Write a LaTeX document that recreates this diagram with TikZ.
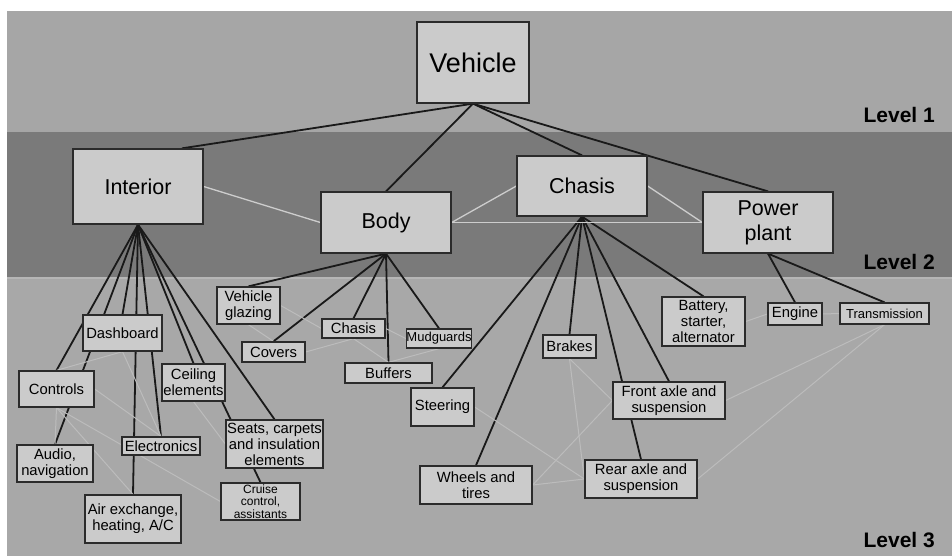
\documentclass[tikz,border=0pt]{standalone}
\usepackage{fontspec}
\setmainfont{Liberation Sans}
\usetikzlibrary{positioning}

\definecolor{bandone}{HTML}{A6A6A6}
\definecolor{bandtwo}{HTML}{7A7A7A}
\definecolor{bandthree}{HTML}{A8A8A8}
\definecolor{bandedge}{HTML}{B6B6B6}
\definecolor{boxfill}{HTML}{CBCBCB}
\definecolor{boxline}{HTML}{2B2B2B}
\definecolor{tiegrey}{HTML}{CDCDCD}
\definecolor{softgrey}{HTML}{BCBCBC}

\pgfdeclarelayer{bands}
\pgfdeclarelayer{links}
\pgfsetlayers{bands,links,main}

\begin{document}
\begin{tikzpicture}[x=1pt, y=-1pt,
    boxsize/.style 2 args={minimum width=#1pt, minimum height=#2pt},
    rootbox/.style={draw=boxline, fill=boxfill, line width=1.3pt, inner sep=0pt,
        align=center, font=\fontsize{27}{30}\selectfont},
    groupbox/.style={rootbox, font=\fontsize{21.5}{25}\selectfont},
    partbox/.style={rootbox, font=\fontsize{14.8}{16}\selectfont},
    smallbox/.style={rootbox, font=\fontsize{13}{14}\selectfont},
    branch/.style={line width=1.8pt, black!90},
    tie/.style={line width=1.3pt, tiegrey},
    softtie/.style={line width=1pt, softgrey},
    levellabel/.style={anchor=east, inner sep=0pt, font=\bfseries\fontsize{21}{24}\selectfont}]

    \useasboundingbox (0,0) rectangle (952,556);

    % background bands
    \begin{pgfonlayer}{bands}
    \fill[white] (0,0) rectangle (952,556);
    \fill[bandone] (7,11) rectangle (952,132);
    \fill[bandtwo] (7,132) rectangle (952,277);
    \fill[bandthree] (7,277) rectangle (952,556);
    \draw[bandedge, line width=2pt] (7,278) -- (952,278);
    \end{pgfonlayer}

    \node[levellabel] (lvl1) at (935,115) {Level 1};
    \node[levellabel] (lvl2) at (935,262) {Level 2};
    \node[levellabel] (lvl3) at (935,540) {Level 3};

    % level 1 and 2
    \node[rootbox, boxsize={112}{81}] (veh) at (473,62.5) {Vehicle};
    \node[groupbox, boxsize={130}{75}] (inter) at (138,186.5) {Interior};
    \node[groupbox, boxsize={130}{61}] (body) at (386,222.5) {Body};
    \node[groupbox, boxsize={130}{60}] (chas) at (582,186) {Chasis};
    \node[groupbox, boxsize={130}{61}] (power) at (768,222.5) {Power\\plant};

    % level 3, interior
    \node[partbox, boxsize={79}{36}] (dash) at (122.5,333) {Dashboard};
    \node[partbox, boxsize={75}{36}] (ctrl) at (56.5,389) {Controls};
    \node[partbox, boxsize={63}{37}] (ceil) at (193.5,382.5) {Ceiling\\elements};
    \node[partbox, boxsize={76}{37}] (audio) at (55,463.5) {Audio,\\navigation};
    \node[partbox, boxsize={78}{18}] (elec) at (161,446) {Electronics};
    \node[partbox, boxsize={96}{48}] (air) at (133,519) {Air exchange,\\heating, A/C};
    \node[partbox, boxsize={97}{48}] (seats) at (274.5,444) {Seats, carpets\\and insulation\\elements};
    \node[rootbox, boxsize={79}{37}, font=\fontsize{12}{12.5}\selectfont] (cruise) at (260.5,501.5) {Cruise\\control,\\assistants};

    % level 3, body
    \node[partbox, boxsize={63}{37}] (glaz) at (248.5,305.5) {Vehicle\\glazing};
    \node[partbox, boxsize={63}{20}] (covers) at (273.5,352) {Covers};
    \node[partbox, boxsize={63}{19}] (chas3) at (353.5,328.5) {Chasis};
    \node[smallbox, boxsize={64}{19}] (mud) at (439,338.5) {Mudguards};
    \node[partbox, boxsize={87}{20}] (buff) at (388.5,373) {Buffers};

    % level 3, chasis and power plant
    \node[partbox, boxsize={53}{23}] (brakes) at (569.5,346.5) {Brakes};
    \node[partbox, boxsize={63}{38}] (steer) at (442.5,407) {Steering};
    \node[partbox, boxsize={112}{37}] (front) at (669,400.5) {Front axle and\\suspension};
    \node[partbox, boxsize={112}{38}] (wheels) at (476,485) {Wheels and\\tires};
    \node[partbox, boxsize={112}{38}] (rear) at (641,479) {Rear axle and\\suspension};
    \node[partbox, boxsize={83}{49}] (batt) at (703.5,321.5) {Battery,\\starter,\\alternator};
    \node[partbox, boxsize={54}{22}] (engine) at (795,314) {Engine};
    \node[smallbox, boxsize={89}{21}] (trans) at (884.5,313.5) {Transmission};

    \begin{pgfonlayer}{links}
    \path[branch]
    (veh.south) edge ([xshift=44pt]inter.north)
    (veh.south) edge (body.north)
    (veh.south) edge (chas.north)
    (veh.south) edge (power.north)
    (inter.south) edge (ctrl.north)
    (inter.south) edge (audio.north)
    (inter.south) edge (dash.north)
    (inter.south) edge (elec.north)
    (inter.south) edge (air.north)
    (inter.south) edge (ceil.north)
    (inter.south) edge (seats.north)
    (inter.south) edge (cruise.north)
    (body.south) edge (glaz.north)
    (body.south) edge (covers.north)
    (body.south) edge (chas3.north)
    (body.south) edge (buff.north)
    (body.south) edge (mud.north)
    (chas.south) edge (steer.north)
    (chas.south) edge (wheels.north)
    (chas.south) edge (brakes.north)
    (chas.south) edge (rear.north)
    (chas.south) edge (front.north)
    (chas.south) edge (batt.north)
    (power.south) edge (engine.north)
    (power.south) edge (trans.north);

    \path[tie]
    (inter.east) edge (body.west)
    (body.east) edge (chas.west)
    (body.east) edge (power.west)
    (chas.east) edge (power.west);

    \path[softtie]
    (ctrl.north) edge (dash.south)
    (dash.south) edge (elec.north)
    (ctrl.east) edge (elec.north)
    (ctrl.south) edge (audio.north)
    (ctrl.south) edge (air.north)
    (ctrl.south) edge (cruise.west)
    (ceil.south) edge (seats.west)
    (glaz.east) edge (chas3.west)
    (glaz.south) edge (covers.north)
    (covers.east) edge (chas3.south)
    (chas3.south) edge (buff.north)
    (chas3.east) edge (mud.west)
    (buff.north) edge (mud.south)
    (brakes.south) edge (front.west)
    (brakes.south) edge (rear.west)
    (steer.east) edge (rear.west)
    (wheels.east) edge (front.west)
    (wheels.east) edge (rear.west)
    (front.east) edge (trans.south)
    (rear.east) edge (trans.south)
    (batt.east) edge (engine.west)
    (engine.east) edge (trans.west);
    \end{pgfonlayer}
\end{tikzpicture}
\end{document}
